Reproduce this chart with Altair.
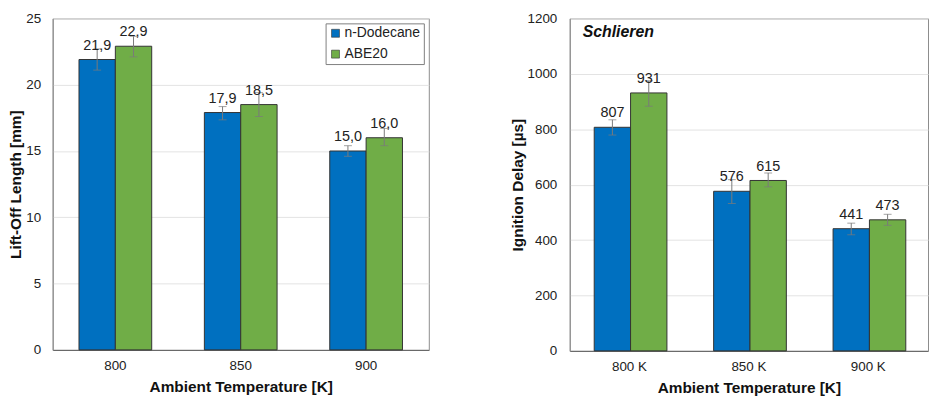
import altair as alt
import pandas as pd

# ---- data ----
fuels = ["n-Dodecane", "ABE20"]
temps_left = ["800", "850", "900"]
temps_right = ["800 K", "850 K", "900 K"]

lol_dodecane = [21.9, 17.9, 15.0]
lol_dodecane_lo = [21.1, 17.35, 14.6]
lol_dodecane_hi = [22.7, 18.35, 15.4]
lol_abe = [22.9, 18.5, 16.0]
lol_abe_lo = [22.1, 17.6, 15.4]
lol_abe_hi = [23.65, 19.4, 16.7]

ign_dodecane = [807, 576, 441]
ign_dodecane_lo = [779, 532, 419]
ign_dodecane_hi = [834, 618, 461]
ign_abe = [931, 615, 473]
ign_abe_lo = [883, 592, 453]
ign_abe_hi = [975, 642, 493]

colors = ["#0070C0", "#70AD47"]
FONT = "Liberation Sans"


def make_df(temps, v1, l1, h1, v2, l2, h2, decimals):
    rows = []
    for i, t in enumerate(temps):
        for f, v, lo, hi in ((fuels[0], v1, l1, h1), (fuels[1], v2, l2, h2)):
            lab = f"{v[i]:.{decimals}f}".replace(".", ",")
            rows.append({"temp": t, "fuel": f, "value": v[i], "lo": lo[i], "hi": hi[i], "label": lab})
    return pd.DataFrame(rows)


def panel(df, temps, ytitle, ymax, ystep, width, height, legend_x, legend_y, row_pad, leg_pad,
          label_pad, pad_inner, extra=None):
    xenc = alt.X("temp:N", sort=temps,
                 scale=alt.Scale(paddingInner=pad_inner, paddingOuter=pad_inner / 2),
                 axis=alt.Axis(title="Ambient Temperature [K]", labelAngle=0, ticks=False,
                               labelPadding=9, titlePadding=7, domainColor="#595959"))
    xoff = alt.XOffset("fuel:N", sort=fuels, scale=alt.Scale(paddingInner=0, paddingOuter=0))
    yscale = alt.Scale(domain=[0, ymax], nice=False)
    yaxis = alt.Axis(title=ytitle, values=list(range(0, ymax + 1, ystep)), format="d", ticks=False,
                     labelPadding=label_pad, titlePadding=2, gridColor="#e3e3e3", domainColor="#8c8c8c")
    base = alt.Chart(df)
    bars = base.mark_bar(stroke="#333333", strokeWidth=1).encode(
        x=xenc, xOffset=xoff,
        y=alt.Y("value:Q", scale=yscale, axis=yaxis),
        color=alt.Color("fuel:N", sort=fuels,
                        scale=alt.Scale(domain=fuels, range=colors),
                        legend=alt.Legend(title=None, orient="none", legendX=legend_x, legendY=legend_y,
                                          fillColor="white", strokeColor="#7f7f7f", padding=leg_pad,
                                          symbolType="square", symbolSize=64, symbolStrokeColor="#333333",
                                          symbolStrokeWidth=0.6, labelFontSize=14, labelFont=FONT,
                                          labelColor="#222222", rowPadding=row_pad, labelOffset=2)),
    )
    rule = base.mark_rule(color="#7a7a7a", strokeWidth=1).encode(
        x=xenc, xOffset=xoff, y=alt.Y("lo:Q", scale=yscale), y2="hi:Q")
    cap_lo = base.mark_tick(color="#7a7a7a", thickness=1, size=8, orient="horizontal").encode(
        x=xenc, xOffset=xoff, y=alt.Y("lo:Q", scale=yscale))
    cap_hi = base.mark_tick(color="#7a7a7a", thickness=1, size=8, orient="horizontal").encode(
        x=xenc, xOffset=xoff, y=alt.Y("hi:Q", scale=yscale))
    text = base.mark_text(font=FONT, fontSize=14.5, color="#222222", baseline="alphabetic", dy=-10).encode(
        x=xenc, xOffset=xoff, y=alt.Y("value:Q", scale=yscale), text="label:N")
    layers = [bars, rule, cap_lo, cap_hi, text]
    if extra is not None:
        layers.append(extra)
    return alt.layer(*layers).properties(width=width, height=height)


df_left = make_df(temps_left, lol_dodecane, lol_dodecane_lo, lol_dodecane_hi,
                  lol_abe, lol_abe_lo, lol_abe_hi, 1)
df_right = make_df(temps_right, ign_dodecane, ign_dodecane_lo, ign_dodecane_hi,
                   ign_abe, ign_abe_lo, ign_abe_hi, 0)

schlieren = alt.Chart(pd.DataFrame({"t": ["Schlieren"]})).mark_text(
    font=FONT, fontSize=16, fontWeight="bold", fontStyle="italic", align="left",
    baseline="middle", color="#111111").encode(x=alt.value(13), y=alt.value(14), text="t:N")

left = panel(df_left, temps_left, "Lift-Off Length [mm]", 25, 5, 379, 334, 275, 5, 7, 3, 12, 0.42)
right = panel(df_right, temps_right, "Ignition Delay [µs]", 1200, 200, 361, 335, 250, 6, 13, 10, 13, 0.41,
              extra=schlieren)

chart = alt.hconcat(left, right, spacing=80).properties(
    padding={"left": 0, "top": 1, "right": 0, "bottom": 0}
).configure_axis(
    labelFont=FONT, labelFontSize=13.5, labelColor="#222222",
    titleFont=FONT, titleFontSize=15.5, titleFontWeight="bold", titleColor="#111111",
).configure_view(stroke="#8c8c8c", strokeWidth=1)

chart.save("out.html", embed_options={"renderer": "svg", "actions": False})
